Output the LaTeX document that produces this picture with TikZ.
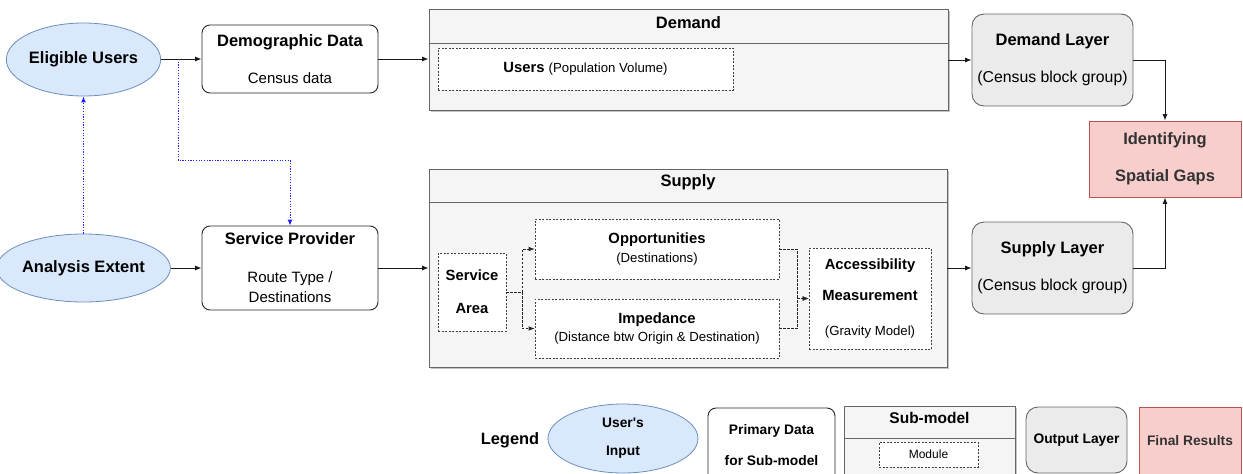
\documentclass[tikz,border=0pt]{standalone}
\usepackage{fontspec}
\setmainfont{Liberation Sans}[Ligatures=TeXOff]
\usetikzlibrary{arrows.meta,shapes.geometric,shadows,calc}
\definecolor{ublue}{HTML}{DAE8FC}
\definecolor{ublueb}{HTML}{6C8EBF}
\definecolor{lgray}{HTML}{F5F5F5}
\definecolor{gbord}{HTML}{666666}
\definecolor{olay}{HTML}{EBEBEB}
\definecolor{redf}{HTML}{F8CECC}
\definecolor{redb}{HTML}{B85450}
\definecolor{dtext}{HTML}{333333}
\definecolor{dotblue}{HTML}{2222FF}
\newcommand\fTitle{\fontsize{16.5}{18}\selectfont\bfseries}
\newcommand\fReg{\fontsize{15}{18}\selectfont}
\newcommand\fRegB{\fontsize{15.8}{18}\selectfont}
\newcommand\fMid{\fontsize{14.8}{18}\selectfont\bfseries}
\newcommand\fSmall{\fontsize{13.2}{18}\selectfont}
\newcommand\fLeg{\fontsize{13.8}{18}\selectfont\bfseries}
\tikzset{
  base/.style={inner sep=0pt, align=center, font=\fontsize{15}{18}\selectfont},
  user/.style={base, ellipse, draw=ublueb, fill=ublue, line width=0.8pt},
  prim/.style={base, rectangle, rounded corners=8pt, draw=black!85, fill=white, line width=0.9pt},
  cont/.style={base, rectangle, draw=gbord, fill=lgray, line width=0.9pt,
     drop shadow={shadow xshift=2pt, shadow yshift=-2pt, fill=black!40, opacity=0.6}},
  modbox/.style={base, rectangle, draw=black!75, fill=white, dash pattern=on 2pt off 1.5pt, line width=0.6pt},
  outl/.style={base, rectangle, rounded corners=12pt, draw=black!60, fill=olay, line width=0.9pt},
  fin/.style={base, rectangle, draw=redb, fill=redf, line width=0.9pt, text=dtext},
  arr/.style={-{Latex[length=6.5pt,width=5pt]}, line width=0.8pt, draw=black!90},
  darr/.style={-{Latex[length=6pt,width=4.5pt]}, line width=0.7pt, draw=black!85, dash pattern=on 2.5pt off 1.5pt},
  barr/.style={-{Latex[length=6pt,width=5pt]}, line width=0.9pt, draw=dotblue, dash pattern=on 1.2pt off 1.5pt},
}
\begin{document}
\begin{tikzpicture}[x=1pt,y=-1pt]
\useasboundingbox (0,0) rectangle (1243,474);
\clip (0,0) rectangle (1243,474);

% user inputs
\node[user, minimum width=147pt, minimum height=73pt] (eu) at (83.5,59.5) {\fTitle Eligible Users};
\node[user, minimum width=147pt, minimum height=68pt] (ae) at (83.5,268) {\fTitle Analysis Extent};

% primary data
\node[prim, minimum width=176pt, minimum height=68pt] (dd) at (290,59)
  {{\fTitle Demographic Data}\\[19pt]{\fReg Census data}};
\node[prim, minimum width=176pt, minimum height=84pt] (sp) at (290,268)
  {{\fTitle Service Provider}\\[20pt]{\fReg Route Type /}\\[2pt]{\fReg Destinations}};

% Demand sub-model
\node[cont, minimum width=519pt, minimum height=101pt] (demand) at (688.5,59.5) {};
\draw[gbord, line width=0.8pt] (demand.west |- 0,43) -- (demand.east |- 0,43);
\node[base] (demandt) at (688.5,22.5) {\fTitle Demand};
\node[modbox, minimum width=295pt, minimum height=42pt] (users) at (585.5,69)
  {{\fMid Users} {\fSmall (Population Volume)}};

% Supply sub-model
\node[cont, minimum width=518pt, minimum height=198pt] (supply) at (688,268) {};
\draw[gbord, line width=0.8pt] (supply.west |- 0,202) -- (supply.east |- 0,202);
\node[base] (supplyt) at (688,182.5) {\fTitle Supply};
\node[modbox, minimum width=68pt, minimum height=78pt] (sa) at (472,292)
  {{\fMid Service}\\[15pt]{\fMid Area}};
\node[modbox, minimum width=244pt, minimum height=60pt] (opp) at (657,249)
  {{\fMid Opportunities}\\[1pt]{\fSmall (Destinations)}};
\node[modbox, minimum width=244pt, minimum height=59pt] (imp) at (657,328.5)
  {{\fMid Impedance}\\[0pt]{\fSmall (Distance btw Origin \& Destination)}};
\node[modbox, minimum width=122pt, minimum height=101pt] (acc) at (870,298.5)
  {{\fMid Accessibility}\\[13pt]{\fMid Measurement}\\[17pt]{\fSmall (Gravity Model)}};

% output layers
\node[outl, minimum width=161pt, minimum height=92pt] (dl) at (1052.5,60)
  {{\fTitle Demand Layer}\\[19pt]{\fRegB (Census block group)}};
\node[outl, minimum width=161pt, minimum height=92pt] (sl) at (1052.5,268)
  {{\fTitle Supply Layer}\\[19pt]{\fRegB (Census block group)}};

% final result
\node[fin, minimum width=152pt, minimum height=76pt] (isg) at (1165,159)
  {{\fTitle Identifying}\\[19pt]{\fTitle Spatial Gaps}};

% connectors
\coordinate (br) at (178,59);
\draw[arr] (eu.east |- dd.west) -- (dd.west);
\draw[arr] (dd.east) -- (dd.east -| demand.west);
\draw[arr] (demand.east |- dl.west) -- (dl.west);
\draw[arr] (dl.east) -| (isg.north);
\draw[arr] (ae.east) -- (ae.east -| sp.west);
\draw[arr] (sp.east) -- (sp.east -| supply.west);
\draw[arr] (supply.east |- sl.west) -- (sl.west);
\draw[arr] (sl.east) -| (isg.south);
\draw[darr] (sa.east) -- ++(16,0) |- (opp.west);
\draw[darr] (sa.east) -- ++(16,0) |- (imp.west);
\draw[darr] (opp.east) -- ++(18,0) |- (acc.west);
\draw[darr] (imp.east) -- ++(18,0) |- (acc.west);
\draw[barr] (ae.north) -- (eu.south);
\draw[barr] (br) -- ++(0,101) -| (sp.north);

% legend
\node[base] (legt) at (510,440) {\fontsize{16.4}{18}\selectfont\bfseries Legend};
\node[user, minimum width=150pt, minimum height=69pt] (lu) at (623,438.5)
  {{\fLeg User's}\\[10pt]{\fLeg Input}};
\node[prim, minimum width=127pt, minimum height=74pt] (lp) at (771.5,445)
  {{\fLeg Primary Data}\\[13pt]{\fLeg for Sub-model}};
\node[cont, minimum width=171pt, minimum height=68pt] (ls) at (929.5,440) {};
\draw[gbord, line width=0.8pt] (ls.west |- 0,438) -- (ls.east |- 0,438);
\node[base] (lst) at (929.5,418) {\fontsize{15.5}{18}\selectfont\bfseries Sub-model};
\node[modbox, minimum width=99pt, minimum height=25pt] (lm) at (928.5,454.5)
  {\fontsize{12}{14}\selectfont Module};
\node[outl, minimum width=101pt, minimum height=66pt] (lo) at (1076.5,440)
  {\fLeg Output Layer};
\node[fin, minimum width=102pt, minimum height=67pt] (lf) at (1190,440.5)
  {\fLeg Final Results};
\end{tikzpicture}
\end{document}
